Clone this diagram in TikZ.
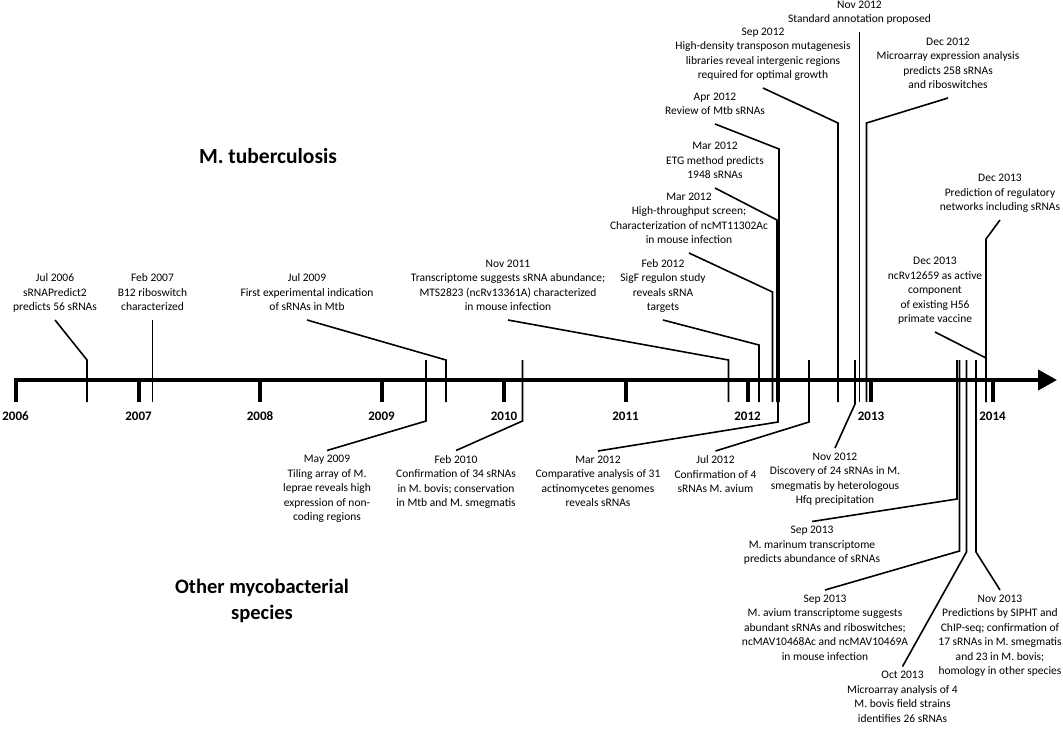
\documentclass[tikz,border=0pt]{standalone}
\usepackage{fontspec}
\setmainfont{Carlito}
\usetikzlibrary{arrows.meta}

\begin{document}
\begin{tikzpicture}[x=1pt, y=-1pt,
	axis/.style={line width=4pt},
	yeartick/.style={line width=4pt},
	event/.style={line width=1.6pt},
	yearlabel/.style={font=\bfseries\fontsize{13}{15}\selectfont},
	evlabel/.style={align=center, inner xsep=0pt, inner ysep=4.5pt,
		font=\fontsize{11.5}{14.5}\selectfont,
		execute at begin node=\strut, execute at end node=\strut},
	uplabel/.style={evlabel, anchor=south},
	downlabel/.style={evlabel, anchor=north},
	title/.style={align=center, font=\bfseries\fontsize{20.5}{26}\selectfont}]

\useasboundingbox (0,0) rectangle (1063,729);

%\upevent{name}{x on axis}{bend y}{label pos}{text}
\newcommand*{\upevent}[5]{%
	\coordinate (#1-a) at (#2,\axbot);
	\coordinate (#1-b) at (#2,#3);
	\node [uplabel] (#1) at (#4) {#5};
	\draw [event] (#1-a) -- (#1-b) -- (#1.south);
}
%\downevent{name}{x on axis}{bend y}{label pos}{text}
\newcommand*{\downevent}[5]{%
	\coordinate (#1-a) at (#2,\axtop);
	\coordinate (#1-b) at (#2,#3);
	\node [downlabel] (#1) at (#4) {#5};
	\draw [event] (#1-a) -- (#1-b) -- (#1.north);
}

\def\axy{380}
\def\axtop{360}
\def\axbot{402}

% axis
\coordinate (ax-start) at (13.5,\axy);
\coordinate (ax-end) at (1057,\axy);
\draw [axis, -{Triangle[length=19pt,width=20pt]}] (ax-start) -- (ax-end);

\foreach \yr/\x in {2006/15.5, 2007/138.5, 2008/260, 2009/381.5, 2010/504,
	2011/625.5, 2012/747.5, 2013/871, 2014/992.5} {
	\draw [yeartick] (\x,\axy) -- (\x,\axbot);
	\node [yearlabel] (y\yr) at (\x,416) {\yr};
}

% titles
\node [title, font=\bfseries\fontsize{21.5}{26}\selectfont] (mtb) at (268,156) {M. tuberculosis};
\node [title] (other) at (262,601) {Other mycobacterial\\species};

% M. tuberculosis, above the axis
\upevent{jul06}{87}{360}{55,320}{Jul 2006\\sRNAPredict2\\predicts 56 sRNAs}
\upevent{feb07}{152.5}{320}{152.5,320}{Feb 2007\\B12 riboswitch\\characterized}
\upevent{jul09}{446}{360}{307,320}{Jul 2009\\First experimental indication\\of sRNAs in Mtb}
\upevent{nov11}{728.5}{360}{508,320}{Nov 2011\\Transcriptome suggests sRNA abundance;\\MTS2823 (ncRv13361A) characterized\\in mouse infection}
\upevent{feb12}{759}{345}{663,320}{Feb 2012\\SigF regulon study\\reveals sRNA\\targets}
\upevent{mar12a}{772.5}{292}{689,253}{Mar 2012\\High-throughput screen;\\Characterization of ncMT11302Ac\\in mouse infection}
\upevent{mar12b}{777}{220}{715,188}{Mar 2012\\ETG method predicts\\1948 sRNAs}
\upevent{apr12}{779}{149}{715,124}{Apr 2012\\Review of Mtb sRNAs}
\upevent{sep12}{838}{123}{763,88}{Sep 2012\\High-density transposon mutagenesis\\libraries reveal intergenic regions\\required for optimal growth}
\upevent{nov12a}{859.5}{32}{859.5,32}{Nov 2012\\Standard annotation proposed}
\upevent{dec12}{866.5}{123}{948,98}{Dec 2012\\Microarray expression analysis\\predicts 258 sRNAs\\and riboswitches}
\upevent{dec13a}{986}{358}{935,332}{Dec 2013\\ncRv12659 as active\\component\\of existing H56\\primate vaccine}
\upevent{dec13b}{986}{239}{1000,220}{Dec 2013\\Prediction of regulatory\\networks including sRNAs}

% other mycobacteria, below the axis
\downevent{may09}{426}{421}{327,450.5}{May 2009\\Tiling array of M.\\leprae reveals high\\expression of non-\\coding regions}
\downevent{feb10}{522.5}{421}{456,450.5}{Feb 2010\\Confirmation of 34 sRNAs\\in M. bovis; conservation\\in Mtb and M. smegmatis}
\downevent{mar12c}{778}{422}{598,451}{Mar 2012\\Comparative analysis of 31\\actinomycetes genomes\\reveals sRNAs}
\downevent{jul12}{809}{422}{715.5,451}{Jul 2012\\Confirmation of 4\\sRNAs M. avium}
\downevent{nov12b}{855}{404}{835,448}{Nov 2012\\Discovery of 24 sRNAs in M.\\smegmatis by heterologous\\Hfq precipitation}
\downevent{sep13a}{957}{499}{812,521.5}{Sep 2013\\M. marinum transcriptome\\predicts abundance of sRNAs}
\downevent{sep13b}{959.5}{551}{825,590}{Sep 2013\\M. avium transcriptome suggests\\abundant sRNAs and riboswitches;\\ncMAV10468Ac and ncMAV10469A\\in mouse infection}
\downevent{oct13}{966.5}{552}{902.5,666.5}{Oct 2013\\Microarray analysis of 4\\M. bovis field strains\\identifies 26 sRNAs}
\downevent{nov13}{976}{552}{1000,590}{Nov 2013\\Predictions by SIPHT and\\ChIP-seq; confirmation of\\17 sRNAs in M. smegmatis\\and 23 in M. bovis;\\homology in other species}

\end{tikzpicture}
\end{document}
